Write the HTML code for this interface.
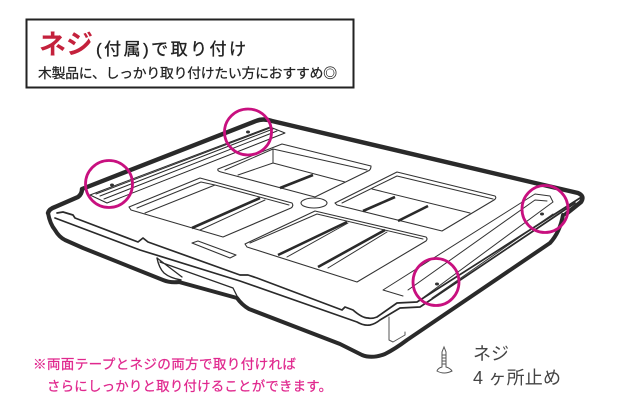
<!DOCTYPE html>
<html lang="ja"><head><meta charset="utf-8"><style>
html,body{margin:0;padding:0;background:#fff;width:640px;height:420px;overflow:hidden}
svg{display:block}
text{font-family:"Liberation Sans","Noto Sans CJK JP",sans-serif}
</style></head><body>
<svg width="640" height="420" viewBox="0 0 640 420" xmlns="http://www.w3.org/2000/svg">
<rect x="26.5" y="19.5" width="327" height="68" fill="#fff" stroke="#222" stroke-width="2"/>
<text x="39" y="54" font-size="27" font-weight="700" fill="#c4213c" textLength="54" lengthAdjust="spacingAndGlyphs">ネジ</text>
<text x="96" y="55" font-size="17" fill="#222" stroke="#222" stroke-width=".35" textLength="150" lengthAdjust="spacing">(付属)で取り付け</text>
<text x="38" y="78" font-size="13.8" fill="#222" stroke="#222" stroke-width=".25" textLength="299" lengthAdjust="spacing">木製品に、しっかり取り付けたい方におすすめ◎</text>

<g fill="none" stroke-linejoin="round" stroke-linecap="round">
<!-- base -->
<path d="M48 213Q50 224 55 230Q59 237 65 240L83 248L163 280Q170 283 179 282L237 298Q242 305 249 309L340 344L362 355Q372 359 385 354Q395 349 407 340L550 243Q560 232 563 215" stroke="#2a2a2a" stroke-width="4"/>
<path d="M157 258Q159 268 164 273Q170 278 181 280" stroke="#2a2a2a" stroke-width="1.4"/>
<path d="M157 258L182 277M160 262L233 288L238 298" stroke="#2a2a2a" stroke-width="1.3"/>
<!-- top outline -->
<path d="M48 213Q49 209 55 207L78 197Q82 194 82 189L256 121Q263 118 272 121L535 183L578 193Q585 196 581 202L566 214" stroke="#2a2a2a" stroke-width="4.4"/>
<!-- rim -->
<path d="M57 213L63 212L73 215L75 218L138 242L143 238L148 242L240 275L248 275L257 278L342 310L345 307L353 310Q362 318 368 318Q372 319 377 317L397 303L417 302L580 198" stroke="#2a2a2a" stroke-width="1.7"/>
<path d="M55 218L140 250L240 281L357 322Q364 326 370 325Q375 324 380 320L400 308L420 307L575 203" stroke="#2a2a2a" stroke-width="1.7"/>
<path d="M389 317V340L393 342L405 335V332" stroke="#555" stroke-width="1"/>

<!-- left rail -->
<g stroke="#2a2a2a" stroke-width="1">
<path d="M90 195L107 203L285 133L270 127Z"/>
<path d="M96 194L270 128M100 196L273 129M104 199L277 131"/>
</g>
<!-- right rail -->
<g stroke="#333" stroke-width="1">
<path d="M403 296L383 290L535 194L550 196L553 202L424 297"/>
<path d="M408 290L535 200L547 201"/>
<path d="M432 298L553 214"/>
</g>

<!-- panels -->
<g stroke="#333" stroke-width="1.1" fill="#fff">
<path d="M218 169L282 144L371 166Q371 170 368 171L315 197L221 172Q217 171 218 169Z"/>
<path d="M335 203L397 172L495 196Q497 198 494 200L442 231L337 205Z"/>
<path d="M245 244L315 211L426 237Q428 239 426 241L357 282L247 247Z"/>
<path d="M129 207L200 178L292 203Q294 206 291 208L223 237L131 210Z"/>
<path d="M192 243L198 241L236 255L230 258Z"/>
<ellipse cx="314" cy="203" rx="13" ry="5"/>
</g>
<g stroke="#333" stroke-width="1">
<path d="M225 170L273 149L367 170M238 175L273 163L345 182M273 149V163"/>
<path d="M342 203L397 176L493 199M372 189L470 213"/>
<path d="M250 243L317 214L423 239"/>
<path d="M137 208L201 182L215 185L289 205M145 213L215 185"/>
<path d="M287 257L348 223M328 268L387 232M200 230L265 200"/>
</g>
<g stroke="#2a2a2a" stroke-width="2.6" stroke-linecap="butt">
<path d="M280 188L313 175M363 211L395 197M398 221L428 206M278 255L347 222M318 267L385 230M192 228L260 198"/>
</g>
</g>
<g fill="#333"><ellipse cx="112" cy="185" rx="2" ry="1.5"/><ellipse cx="248" cy="132" rx="2" ry="1.5"/><ellipse cx="437" cy="284" rx="2" ry="1.5"/><ellipse cx="542" cy="214" rx="2" ry="1.5"/></g>

<!-- magenta circles -->
<g fill="none" stroke="#c8107f" stroke-width="2.8">
<ellipse cx="109" cy="184" rx="23.5" ry="23.5"/>
<ellipse cx="248" cy="132" rx="23.5" ry="23"/>
<ellipse cx="436" cy="282" rx="23" ry="23.5"/>
<ellipse cx="545" cy="209" rx="23" ry="23.5"/>
</g>

<!-- screw -->
<g fill="none" stroke="#555" stroke-width="1">
<path d="M444 347L442 352V367Q438 368 437 371Q444 375 452 371Q450 368 446 367V352Z" fill="#fff"/>
<path d="M442 355H446M442 358H446M442 361H446M442 364H446"/>
</g>
<text x="473" y="360" font-size="18" fill="#444">ネジ</text>
<text x="473" y="384" font-size="18" fill="#444" textLength="88" lengthAdjust="spacing">4 ヶ所止め</text>

<text x="33" y="369" font-size="13.6" fill="#e0288e" stroke="#e0288e" stroke-width=".25" textLength="263" lengthAdjust="spacing">※両面テープとネジの両方で取り付ければ</text>
<text x="47" y="391" font-size="13.4" fill="#e0288e" stroke="#e0288e" stroke-width=".25" textLength="285" lengthAdjust="spacing">さらにしっかりと取り付けることができます。</text>
</svg>
</body></html>
